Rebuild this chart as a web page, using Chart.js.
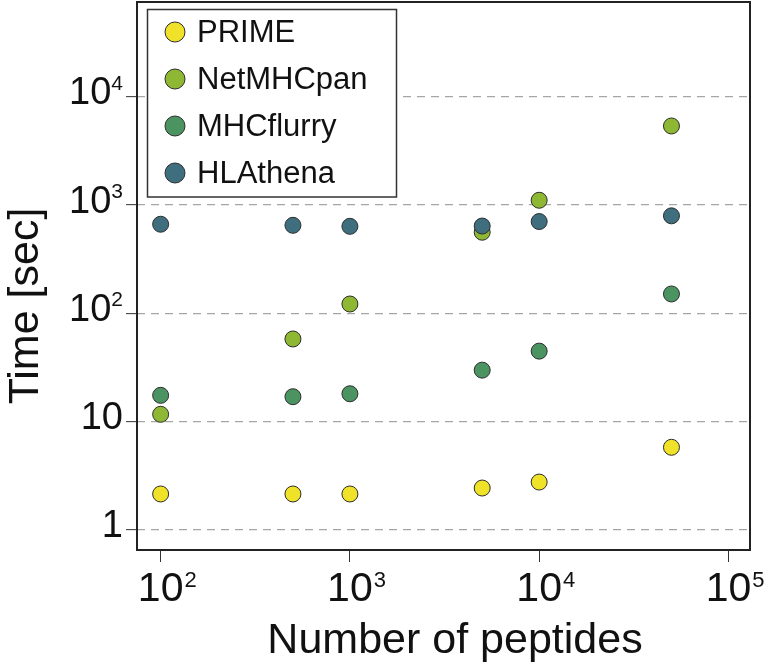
<!DOCTYPE html>
<html>
<head>
<meta charset="utf-8">
<script src="https://cdn.jsdelivr.net/npm/chart.js@4.4.1/dist/chart.umd.min.js"></script>
<style>
  html, body { margin: 0; padding: 0; background: #fff; }
  #wrap { width: 769px; height: 665px; }
</style>
</head>
<body>
<div id="wrap"><canvas id="chart-area" width="769" height="665"></canvas></div>
<script>
var peptides = [100, 500, 1000, 5000, 10000, 50000];
var primeTime = [2.15, 2.15, 2.15, 2.44, 2.77, 5.8];
var netmhcpanTime = [11.7, 58, 122, 561, 1107, 5370];
var mhcflurryTime = [17.5, 17.0, 18.1, 29.9, 44.8, 151];
var hlathenaTime = [665, 650, 636, 640, 704, 795];

var seriesNames = ['PRIME', 'NetMHCpan', 'MHCflurry', 'HLAthena'];
var seriesColors = ['#efe229', '#8eb833', '#4b9462', '#3f6f7f'];

var xTicks = [100, 1000, 10000, 100000];
var xTickLabels = [['10', '2'], ['10', '3'], ['10', '4'], ['10', '5']];
var yTicks = [1, 10, 100, 1000, 10000];
var yTickLabels = [['1', ''], ['10', ''], ['10', '2'], ['10', '3'], ['10', '4']];

var xTitle = 'Number of peptides';
var yTitle = 'Time [sec]';

var FONT = '"Liberation Sans", Arial, Helvetica, sans-serif';

function toPoints(ys) {
    return peptides.map(function (x, i) { return {x: x, y: ys[i]}; });
}

var allTimes = [primeTime, netmhcpanTime, mhcflurryTime, hlathenaTime];
// later series sit on top where points overlap
var drawOrder = [4, 2, 3, 1];

var datasets = seriesNames.map(function (name, i) {
    return {
        label: name,
        data: toPoints(allTimes[i]),
        backgroundColor: seriesColors[i],
        borderColor: '#2d2d2d',
        borderWidth: 1,
        pointRadius: 8,
        order: drawOrder[i]
    };
});

// tick labels with superscripts, axis titles, legend box and frame
var decor = {
    id: 'decor',
    afterDatasetsDraw: function (chart) {
        var ctx = chart.ctx;
        var area = chart.chartArea;
        var xs = chart.scales.x;
        var ys = chart.scales.y;
        ctx.save();

        // legend
        ctx.fillStyle = '#fff';
        ctx.fillRect(147, 9, 250, 188);
        ctx.strokeStyle = '#333';
        ctx.lineWidth = 1.5;
        ctx.strokeRect(147.5, 9.5, 249, 187.5);
        ctx.font = '31px ' + FONT;
        ctx.textBaseline = 'middle';
        ctx.textAlign = 'left';
        seriesNames.forEach(function (name, i) {
            var cy = 32 + i * 47;
            ctx.beginPath();
            ctx.arc(175, cy, 10, 0, Math.PI * 2);
            ctx.fillStyle = seriesColors[i];
            ctx.fill();
            ctx.lineWidth = 1;
            ctx.strokeStyle = '#2d2d2d';
            ctx.stroke();
            ctx.fillStyle = '#111';
            ctx.fillText(name, 197, cy + 1);
        });

        // frame
        ctx.strokeStyle = '#222';
        ctx.lineWidth = 2;
        ctx.strokeRect(area.left, area.top, area.right - area.left, area.bottom - area.top);

        ctx.fillStyle = '#111';
        ctx.textBaseline = 'alphabetic';
        ctx.textAlign = 'left';

        // y tick labels, right aligned
        yTicks.forEach(function (v, i) {
            var py = ys.getPixelForValue(v);
            ctx.font = '38px ' + FONT;
            var wb = ctx.measureText(yTickLabels[i][0]).width;
            ctx.font = '21px ' + FONT;
            var ws = yTickLabels[i][1] ? ctx.measureText(yTickLabels[i][1]).width : 0;
            var x0 = 123 - wb - ws;
            ctx.font = '38px ' + FONT;
            ctx.fillText(yTickLabels[i][0], x0, py + 7.5);
            if (ws) {
                ctx.font = '21px ' + FONT;
                ctx.fillText(yTickLabels[i][1], x0 + wb, py - 7);
            }
        });

        // x tick labels, base centred on tick
        xTicks.forEach(function (v, i) {
            var px = xs.getPixelForValue(v);
            ctx.font = '41px ' + FONT;
            var wb = ctx.measureText(xTickLabels[i][0]).width;
            var x0 = px - wb / 2;
            ctx.fillText(xTickLabels[i][0], x0, 601);
            ctx.font = '22px ' + FONT;
            ctx.fillText(xTickLabels[i][1], x0 + wb + 1, 587);
        });

        // axis titles
        ctx.font = '43px ' + FONT;
        ctx.textAlign = 'center';
        ctx.fillText(xTitle, 455, 653);
        ctx.save();
        ctx.translate(38, 306);
        ctx.rotate(-Math.PI / 2);
        ctx.fillText(yTitle, 0, 0);
        ctx.restore();

        ctx.restore();
    }
};

var config = {
    type: 'scatter',
    data: {
        datasets: datasets
    },
    options: {
        responsive: false,
        animation: false,
        events: [],
        layout: {
            autoPadding: false,
            padding: {top: 2, right: 19, left: 0, bottom: 0}
        },
        plugins: {
            legend: {display: false},
            tooltip: {enabled: false}
        },
        scales: {
            x: {
                type: 'logarithmic',
                min: 75,
                max: 130000,
                bounds: 'data',
                afterBuildTicks: function (scale) {
                    scale.ticks = xTicks.map(function (v) { return {value: v}; });
                },
                afterFit: function (scale) { scale.height = 115; },
                ticks: {display: false},
                grid: {
                    drawOnChartArea: false,
                    drawTicks: true,
                    tickLength: 12,
                    tickColor: '#333',
                    tickWidth: 1
                },
                border: {display: false}
            },
            y: {
                type: 'logarithmic',
                min: 0.6535,
                max: 74900,
                bounds: 'data',
                afterBuildTicks: function (scale) {
                    scale.ticks = yTicks.map(function (v) { return {value: v}; });
                },
                afterFit: function (scale) { scale.width = 137; },
                ticks: {display: false},
                grid: {
                    color: '#a6a6a6',
                    lineWidth: 1.3,
                    drawTicks: true,
                    tickLength: 11,
                    tickColor: '#333',
                    tickWidth: 1,
                    tickBorderDash: []
                },
                border: {display: false, dash: [8, 6]}
            }
        }
    },
    plugins: [decor]
};

var ctx = document.getElementById('chart-area').getContext('2d');
window.timeChart = new Chart(ctx, config);
</script>
</body>
</html>
